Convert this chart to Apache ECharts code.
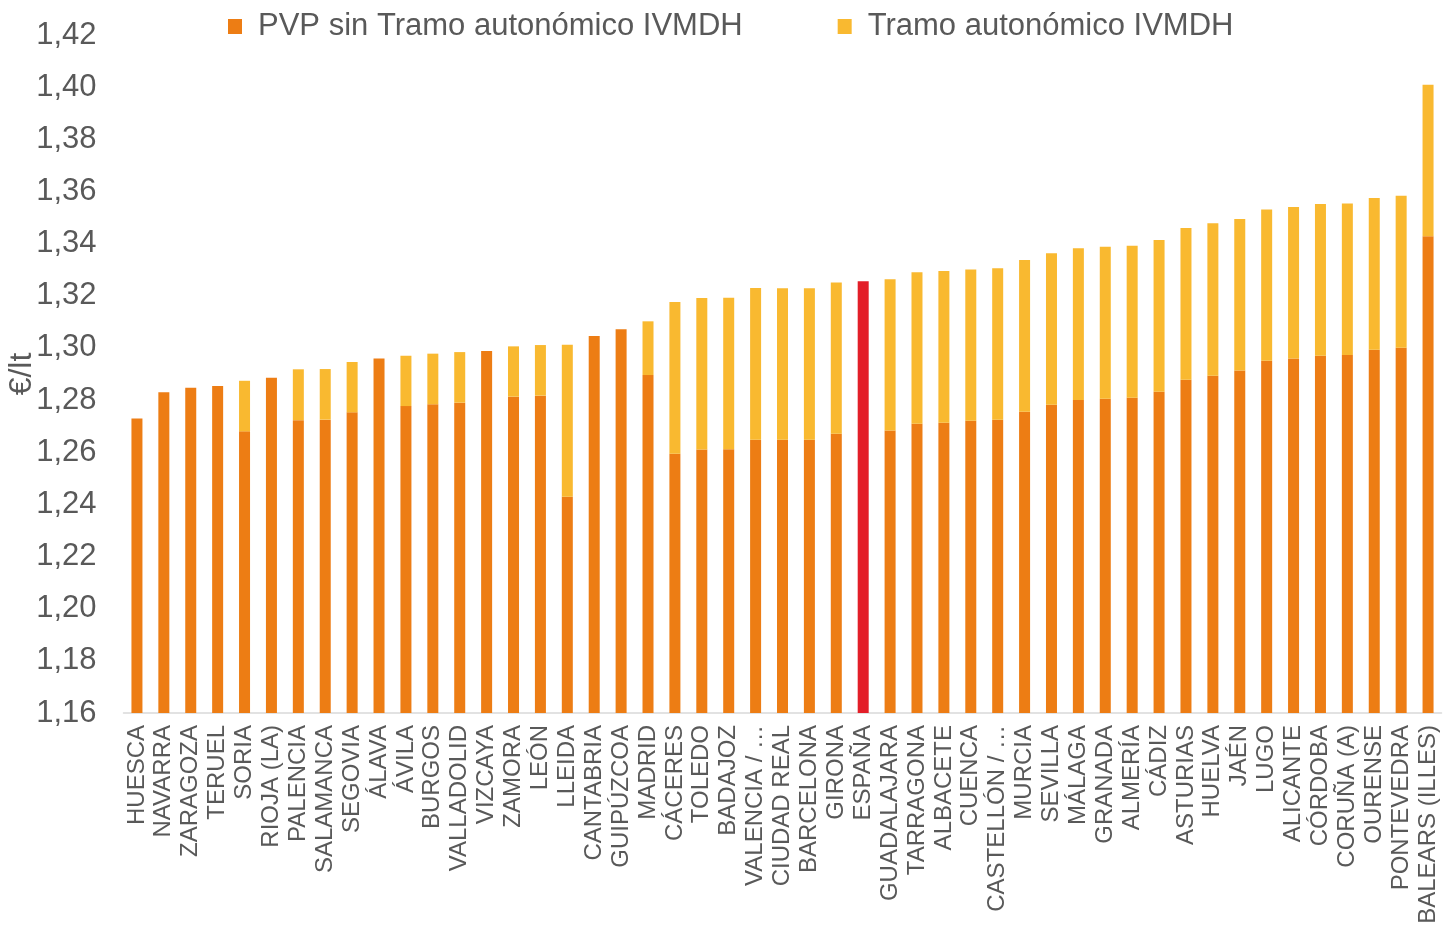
<!DOCTYPE html>
<html>
<head>
<meta charset="utf-8">
<script src="https://cdn.jsdelivr.net/npm/echarts@6/dist/echarts.min.js"></script>
<style>html,body{margin:0;padding:0;background:#fff}#c{width:1443px;height:927px}</style>
</head>
<body>
<div id="c"></div>
<script>
var categories = ["HUESCA","NAVARRA","ZARAGOZA","TERUEL","SORIA","RIOJA (LA)","PALENCIA","SALAMANCA","SEGOVIA","ÁLAVA","ÁVILA","BURGOS","VALLADOLID","VIZCAYA","ZAMORA","LEÓN","LLEIDA","CANTABRIA","GUIPÚZCOA","MADRID","CÁCERES","TOLEDO","BADAJOZ","VALENCIA / …","CIUDAD REAL","BARCELONA","GIRONA","ESPAÑA","GUADALAJARA","TARRAGONA","ALBACETE","CUENCA","CASTELLÓN / …","MURCIA","SEVILLA","MÁLAGA","GRANADA","ALMERÍA","CÁDIZ","ASTURIAS","HUELVA","JAÉN","LUGO","ALICANTE","CÓRDOBA","CORUÑA (A)","OURENSE","PONTEVEDRA","BALEARS (ILLES)"];
var pvpSinTramo = [1.2729,1.2830,1.2847,1.2854,1.2680,1.2886,1.2723,1.2725,1.2753,1.2959,1.2777,1.2784,1.2790,1.2988,1.2813,1.2817,1.2429,1.3046,1.3072,1.2896,1.2594,1.2610,1.2611,1.2648,1.2648,1.2648,1.2671,1.3256,1.2683,1.2709,1.2713,1.2721,1.2725,1.2755,1.2782,1.2800,1.2805,1.2809,1.2832,1.2878,1.2893,1.2913,1.2951,1.2959,1.2970,1.2973,1.2993,1.3001,1.3428];
var tramo = [0,0,0,0,0.0194,0,0.0195,0.0194,0.0193,0,0.0193,0.0194,0.0194,0,0.0193,0.0194,0.0583,0,0,0.0206,0.0582,0.0581,0.0581,0.0582,0.0581,0.0581,0.0580,0,0.0580,0.0581,0.0582,0.0580,0.0581,0.0582,0.0581,0.0582,0.0583,0.0583,0.0582,0.0582,0.0585,0.0581,0.0580,0.0581,0.0582,0.0581,0.0582,0.0583,0.0581];
var yTicks = {min: 1.16, max: 1.42, interval: 0.02};
var highlight = "ESPAÑA";

var ORANGE = "#ED7D14", YELLOW = "#F9B930", RED = "#E31E28", GREY = "#595959";
var FONT = "Liberation Sans, Arial, sans-serif";

var baseData = pvpSinTramo.map(function (v, i) {
  return categories[i] === highlight ? {value: v, itemStyle: {color: RED}} : v;
});
var tramoData = tramo.map(function (v) { return v === 0 ? null : v; });

var chart = echarts.init(document.getElementById('c'), null, {renderer: 'canvas'});
chart.setOption({
  animation: false,
  backgroundColor: '#fff',
  textStyle: {fontFamily: FONT},
  grid: {left: 123.5, right: 1.5, top: 35, bottom: 214, containLabel: false, outerBoundsMode: 'none'},
  legend: {
    left: 228, top: 11, padding: 0,
    itemWidth: 14, itemHeight: 15, itemGap: 95,
    icon: 'rect',
    textStyle: {fontFamily: FONT, fontSize: 31, color: GREY, padding: [0, 0, 0, 11]},
    data: ["PVP sin Tramo autonómico IVMDH", "Tramo autonómico IVMDH"]
  },
  xAxis: {
    type: 'category',
    data: categories,
    axisLine: {lineStyle: {color: '#D9D9D9', width: 1.5}},
    axisTick: {show: false},
    axisLabel: {
      rotate: 90, interval: 0, margin: 12,
      fontFamily: FONT, fontSize: 24, color: GREY
    }
  },
  yAxis: {
    type: 'value',
    min: yTicks.min, max: yTicks.max, interval: yTicks.interval,
    name: '€/lt', nameLocation: 'middle', nameGap: 85, nameRotate: 90,
    nameMoveOverlap: false,
    nameTextStyle: {fontFamily: FONT, fontSize: 32, color: GREY},
    axisLine: {show: false},
    axisTick: {show: false},
    splitLine: {show: false},
    axisLabel: {
      margin: 27, fontFamily: FONT, fontSize: 31, color: GREY,
      formatter: function (v) { return v.toFixed(2).replace('.', ','); }
    }
  },
  series: [
    {
      name: "PVP sin Tramo autonómico IVMDH", type: 'bar', stack: 'total',
      barWidth: 11, itemStyle: {color: ORANGE}, data: baseData
    },
    {
      name: "Tramo autonómico IVMDH", type: 'bar', stack: 'total',
      barWidth: 11, itemStyle: {color: YELLOW}, data: tramoData
    }
  ]
});
</script>
</body>
</html>
